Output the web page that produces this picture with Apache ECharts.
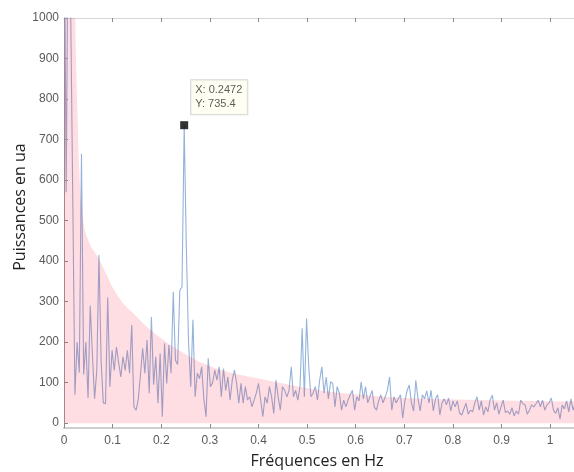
<!DOCTYPE html>
<html>
<head>
<meta charset="utf-8">
<script src="https://cdn.jsdelivr.net/npm/echarts@6/dist/echarts.min.js"></script>
<style>html,body{margin:0;padding:0;background:#fff}#c{width:574px;height:472px}</style>
</head>
<body>
<div id="c"></div>
<script>
// frequency resolution (Hz) of the spectrum
const freqStep = 0.2472 / 55;
// power spectrum values (ua), one per frequency bin starting at 0 Hz
const powerValues = [
 1400,570,1350,1050,560,70,200,125,665,120,
 200,62,290,170,60,130,415,150,50,48,
 310,90,180,130,188,150,114,164,130,180,
 123,242,40,32,60,120,185,123,205,74,
 262,95,164,49,172,16,197,98,193,123,
 324,155,145,328,336,735.4,430,200,90,255,
 65,123,110,139,60,16,160,90,100,131,
 106,139,65,135,81,114,57,106,131,98,
 49,98,49,90,57,65,40,57,74,98,
 57,16,65,49,90,65,24,106,65,32,
 90,81,65,81,139,65,81,57,90,234,
 65,258,139,65,74,90,57,106,139,74,
 114,60,102,98,40,90,74,32,57,40,
 57,70,81,32,65,55,102,60,90,50,
 65,81,40,32,55,70,50,65,81,114,
 32,65,50,60,70,12,55,80,94,50,
 30,106,60,30,70,60,80,50,81,30,
 60,70,20,50,60,45,62,30,55,40,
 55,25,20,35,49,22,32,28,50,65,
 32,55,20,40,28,57,69,32,50,22,
 40,57,26,30,22,38,18,30,22,57,
 48,45,22,32,45,40,48,57,40,57,
 32,45,50,62,32,24,38,10,45,35,
 55,28,60,32,50,40,55
];
// significance envelope (pink band): frequencies and levels
const envFreqs  = [0, 0.005, 0.01, 0.015, 0.02, 0.025, 0.03, 0.034, 0.038, 0.042, 0.047, 0.052, 0.057, 0.063, 0.07, 0.08, 0.09, 0.1, 0.11, 0.12, 0.13, 0.142, 0.155, 0.17, 0.19, 0.21, 0.23, 0.25, 0.28, 0.31, 0.35, 0.4, 0.45, 0.5, 0.55, 0.6, 0.65, 0.7, 0.78, 0.9, 1.0, 1.06];
const envValues = [2500, 2300, 2000, 1600, 1200, 880, 660, 560, 510, 480, 460, 445, 432, 422, 410, 385, 360, 335, 315, 298, 285, 272, 256, 238, 218, 200, 184, 170, 150, 136, 122, 110, 98, 86, 77, 71, 66, 62, 59, 56, 54, 53];
// data tip
const tipX = 0.2472;
const tipY = 735.4;
// tick labels
const xTicks = [0, 0.1, 0.2, 0.3, 0.4, 0.5, 0.6, 0.7, 0.8, 0.9, 1];
const yTicks = [0, 100, 200, 300, 400, 500, 600, 700, 800, 900, 1000];
const xTitle = 'Fréquences en Hz';
const yTitle = 'Puissances en ua';

const lineData = powerValues.map((v, i) => [i * freqStep, v]);
const envData = envFreqs.map((f, i) => [f, envValues[i]]);

const chart = echarts.init(document.getElementById('c'), null, {renderer: 'canvas'});
const tickStyle = {show: true, inside: true, length: 4, lineStyle: {color: '#8a8a8a', width: 1}};
const labelFont = 'Liberation Sans, Arial, sans-serif';
chart.setOption({
  animation: false,
  backgroundColor: '#ffffff',
  grid: {left: 64, right: 0, top: 18, bottom: 44, containLabel: false},
  xAxis: [{
    type: 'value', min: 0, max: 1.049, position: 'bottom',
    axisLine: {show: true, onZero: false, lineStyle: {color: '#cfcfcf', width: 2}},
    axisTick: Object.assign({customValues: xTicks}, tickStyle),
    axisLabel: {customValues: xTicks, color: '#5a5a5a', fontSize: 12, fontFamily: labelFont, margin: 7,
      formatter: v => String(v)},
    splitLine: {show: false}
  }, {
    type: 'value', min: 0, max: 1.049, position: 'top',
    axisLine: {show: true, onZero: false, lineStyle: {color: '#d6d6d6', width: 1}},
    axisTick: Object.assign({customValues: xTicks}, tickStyle),
    axisLabel: {show: false},
    splitLine: {show: false}
  }],
  yAxis: [{
    type: 'value', min: -12, max: 1000,
    axisLine: {show: true, onZero: false, lineStyle: {color: '#9a9a9a', width: 1}},
    axisTick: Object.assign({customValues: yTicks}, tickStyle),
    axisLabel: {customValues: yTicks, color: '#5a5a5a', fontSize: 12, fontFamily: labelFont, margin: 5,
      formatter: v => String(v)},
    splitLine: {show: false}
  }],
  series: [{
    type: 'line', data: lineData, showSymbol: false, symbol: 'none',
    lineStyle: {color: '#94b2da', width: 1.1}, z: 2, clip: true
  }, {
    type: 'line', data: envData, showSymbol: false, symbol: 'none',
    smooth: false,
    lineStyle: {width: 0, opacity: 0},
    areaStyle: {color: 'rgba(245,20,50,0.2)'}, z: 3, clip: true
  }, {
    type: 'scatter', data: [[tipX, tipY]], symbol: 'rect', symbolSize: 8,
    itemStyle: {color: '#000'}, z: 5,
    label: {
      show: true, position: [11, -41],
      formatter: 'X: ' + tipX + '\nY: ' + tipY,
      color: '#333', fontSize: 11, lineHeight: 14,
      fontFamily: labelFont,
      backgroundColor: '#fffff0', borderColor: '#cccccc', borderWidth: 1,
      padding: [3, 5, 3, 4]
    }
  }],
  graphic: [{
    type: 'text', x: 20, y: 207, rotation: Math.PI / 2,
    style: {text: yTitle, font: '16px "Open Sans"', fill: '#222', align: 'center', verticalAlign: 'middle'}
  }, {
    type: 'text', x: 317, y: 461,
    style: {text: xTitle, font: '16px "Open Sans"', fill: '#222', align: 'center', verticalAlign: 'middle'}
  }]
});
</script>
</body>
</html>
